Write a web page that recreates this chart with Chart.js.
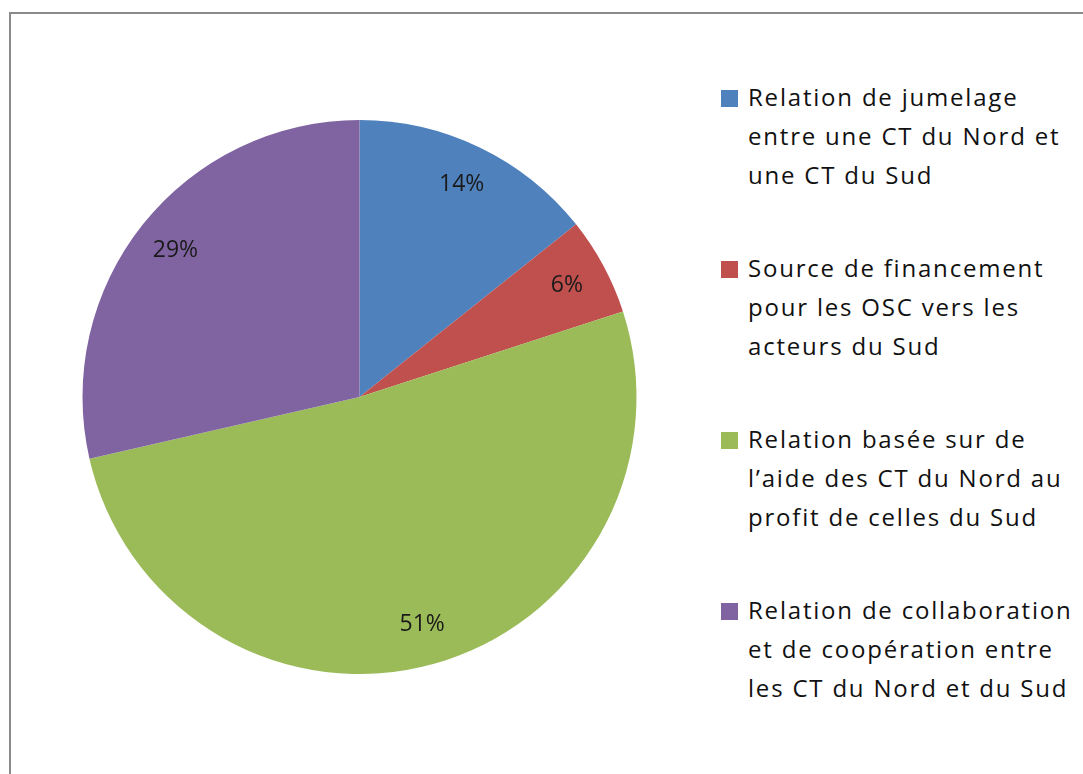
<!DOCTYPE html>
<html lang="fr">
<head>
  <meta charset="UTF-8" />
  <title>Relations CT Nord / Sud</title>
  <script src="https://cdn.jsdelivr.net/npm/chart.js"></script>
  <style>
    html, body {
      margin: 0;
      padding: 0;
      width: 1083px;
      height: 774px;
      overflow: hidden;
      background: #fff;
      font-family: "Open Sans", sans-serif;
    }

    #frame {
      position: absolute;
      left: 9px;
      top: 12px;
      width: 1200px;
      height: 900px;
      border: 2px solid #8a8a8a;
    }

    #chartBox {
      position: absolute;
      left: 0;
      top: 0;
      width: 720px;
      height: 774px;
    }

    #legend {
      position: absolute;
      left: 721px;
      top: 77px;
      white-space: nowrap;
    }

    .item {
      position: relative;
      padding-left: 27px;
      margin-bottom: 54px;
      font-size: 24px;
      line-height: 39px;
      letter-spacing: 1.8px;
      color: #111;
    }

    .swatch {
      position: absolute;
      left: 0;
      top: 13px;
      width: 17px;
      height: 17px;
    }
  </style>
</head>
<body>
  <div id="frame"></div>
  <div id="chartBox"><canvas id="pie"></canvas></div>
  <div id="legend"></div>

  <script>
    const labels = [
      ["Relation de jumelage", "entre une CT du Nord et", "une CT du Sud"],
      ["Source de financement", "pour les OSC vers les", "acteurs du Sud"],
      ["Relation basée sur de", "l’aide des CT du Nord au", "profit de celles du Sud"],
      ["Relation de collaboration", "et de coopération entre", "les CT du Nord et du Sud"]
    ];
    // counts (shown as 14%, 6%, 51%, 29%)
    const values = [5, 2, 18, 10];
    const colors = ["#4F81BD", "#C0504D", "#9BBB59", "#8064A2"];

    const total = values.reduce((a, b) => a + b, 0);

    // html legend, one block per slice
    const legendDiv = document.getElementById("legend");
    labels.forEach((lines, i) => {
      legendDiv.innerHTML += `<div class="item">
          <span class="swatch" style="background:${colors[i]}"></span>
          ${lines.join("<br>")}
        </div>`;
    });

    // percent labels inside the slices
    const sliceLabels = {
      id: "sliceLabels",
      afterDatasetsDraw(chart) {
        const ctx = chart.ctx;
        const meta = chart.getDatasetMeta(0);
        ctx.save();
        ctx.font = "23px 'Open Sans', sans-serif";
        ctx.fillStyle = "#1a1a1a";
        ctx.textAlign = "center";
        ctx.textBaseline = "middle";
        meta.data.forEach((arc, i) => {
          const p = arc.getProps(["x", "y", "startAngle", "endAngle", "outerRadius"], true);
          const mid = (p.startAngle + p.endAngle) / 2;
          const d = p.outerRadius * 0.85;
          const pct = Math.round(values[i] / total * 100) + "%";
          ctx.fillText(pct, p.x + Math.cos(mid) * d, p.y + Math.sin(mid) * d);
        });
        ctx.restore();
      }
    };

    new Chart(document.getElementById("pie"), {
      type: "pie",
      data: {
        labels: labels.map(l => l.join(" ")),
        datasets: [{
          data: values,
          backgroundColor: colors,
          borderWidth: 0
        }]
      },
      options: {
        responsive: true,
        maintainAspectRatio: false,
        animation: false,
        layout: {
          padding: { left: 82, right: 83, top: 120, bottom: 100 }
        },
        plugins: {
          legend: { display: false },
          tooltip: { enabled: false }
        }
      },
      plugins: [sliceLabels]
    });
  </script>
</body>
</html>
